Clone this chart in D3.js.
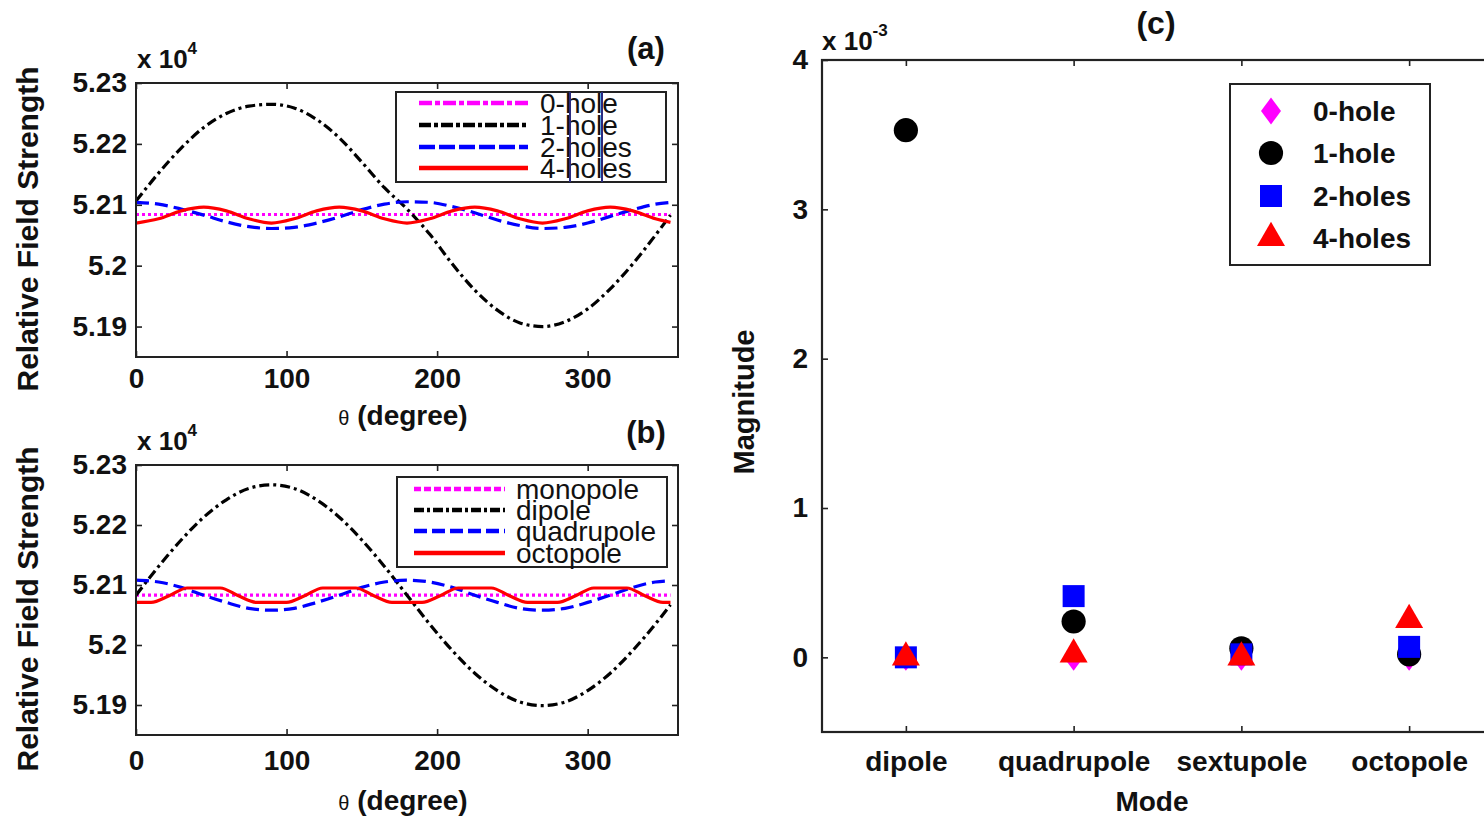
<!DOCTYPE html>
<html><head><meta charset="utf-8">
<script src="https://cdn.jsdelivr.net/npm/d3@7"></script>
<style>
html,body{margin:0;padding:0;background:#fff;}
svg{display:block;}
text{font-family:"Liberation Sans",Arial,Helvetica,sans-serif;fill:#111;}
</style></head><body>
<svg id="chart" width="1484" height="818"></svg>
<script>
// ---------- data: panel (a) ----------
const theta = [0,15,30,45,60,75,90,105,120,135,150,165,180,195,210,225,240,255,270,285,300,315,330,345,355];
const seriesA = ["0-hole","1-hole","2-holes","4-holes"];
const a0hole  = [5.2084,5.2084,5.2084,5.2084,5.2084,5.2084,5.2084,5.2084,5.2084,5.2084,5.2084,5.2084,5.2084,5.2084,5.2084,5.2084,5.2084,5.2084,5.2084,5.2084,5.2084,5.2084,5.2084,5.2084,5.2084];
const a1hole  = [5.2106,5.2152,5.2193,5.2227,5.2250,5.2262,5.2265,5.2259,5.2240,5.2210,5.2170,5.2128,5.2093,5.2052,5.2003,5.1960,5.1927,5.1906,5.1900,5.1908,5.1929,5.1962,5.2003,5.2050,5.2083];
const a2holes = [5.2104,5.2101,5.2093,5.2083,5.2072,5.2064,5.2061,5.2063,5.2070,5.2080,5.2092,5.2101,5.2105,5.2104,5.2097,5.2087,5.2075,5.2066,5.2061,5.2063,5.2070,5.2081,5.2092,5.2101,5.2104];
const a4holes = [5.2070,5.2077,5.2090,5.2096,5.2090,5.2077,5.2070,5.2077,5.2090,5.2096,5.2090,5.2077,5.2070,5.2077,5.2090,5.2096,5.2090,5.2077,5.2070,5.2077,5.2090,5.2096,5.2090,5.2077,5.2071];

// ---------- data: panel (b) ----------
const seriesB = ["monopole","dipole","quadrupole","octopole"];
const bMonopole   = [5.2083,5.2083,5.2083,5.2083,5.2083,5.2083,5.2083,5.2083,5.2083,5.2083,5.2083,5.2083,5.2083,5.2083,5.2083,5.2083,5.2083,5.2083,5.2083,5.2083,5.2083,5.2083,5.2083,5.2083,5.2083];
const bDipole     = [5.2083,5.2131,5.2175,5.2213,5.2242,5.2261,5.2267,5.2261,5.2242,5.2213,5.2175,5.2131,5.2083,5.2035,5.1991,5.1953,5.1924,5.1905,5.1899,5.1905,5.1924,5.1953,5.1991,5.2035,5.2067];
const bQuadrupole = [5.2108,5.2105,5.2096,5.2083,5.2071,5.2061,5.2058,5.2061,5.2071,5.2083,5.2096,5.2105,5.2108,5.2105,5.2096,5.2083,5.2071,5.2061,5.2058,5.2061,5.2071,5.2083,5.2096,5.2105,5.2107];
const thetaOct    = [0,10,22,34,56,68,80,100,112,124,146,158,170,190,202,214,236,248,260,280,292,304,326,338,350,355];
const bOctopole   = [5.2071,5.2071,5.2082,5.2095,5.2095,5.2082,5.2071,5.2071,5.2082,5.2095,5.2095,5.2082,5.2071,5.2071,5.2082,5.2095,5.2095,5.2082,5.2071,5.2071,5.2082,5.2095,5.2095,5.2082,5.2071,5.2071];

const xTicksAB = [0,100,200,300];
const yTicksAB = [5.19,5.2,5.21,5.22,5.23];
const yTickLabelsAB = ["5.19","5.2","5.21","5.22","5.23"];

// ---------- data: panel (c) (x 10^-3) ----------
const modes   = ["dipole","quadrupole","sextupole","octopole"];
const seriesC = ["0-hole","1-hole","2-holes","4-holes"];
const c0hole  = [0.00,0.00,0.00,0.00];
const c1hole  = [3.53,0.24,0.06,0.02];
const c2holes = [0.00,0.41,0.02,0.07];
const c4holes = [0.00,0.02,0.00,0.25];
const yTicksC = [0,1,2,3,4];

// ---------- drawing ----------
const svg = d3.select("#chart");
const colors = ["#ff00ff","#000000","#0000ff","#ff0000"];

function styleAxis(g){
  g.select(".domain").remove();
  g.selectAll(".tick line").attr("stroke","#222").attr("stroke-width",1.6);
}

function linePanel(cfg){
  const g = svg.append("g");
  const x = d3.scaleLinear().domain([0,360]).range([136,678]);
  const y = d3.scaleLinear().domain([5.185,5.23]).range(cfg.yRange);
  const [yb, yt] = cfg.yRange;
  g.append("g").attr("transform",`translate(0,${yb})`)
    .call(d3.axisBottom(x).tickValues(xTicksAB).tickSize(-6).tickPadding(cfg.xPad).tickFormat(d3.format("d")))
    .call(styleAxis)
    .selectAll("text").attr("font-size",28).attr("font-weight","bold").attr("fill","#111");
  g.append("g").attr("transform",`translate(0,${yt})`)
    .call(d3.axisTop(x).tickValues(xTicksAB).tickSize(-6).tickFormat(""))
    .call(styleAxis);
  g.append("g").attr("transform",`translate(136,0)`)
    .call(d3.axisLeft(y).tickValues(yTicksAB).tickSize(-6).tickPadding(9).tickFormat((d,i)=>yTickLabelsAB[i]))
    .call(styleAxis)
    .selectAll("text").attr("font-size",28).attr("font-weight","bold").attr("fill","#111");
  g.append("g").attr("transform",`translate(678,0)`)
    .call(d3.axisRight(y).tickValues(yTicksAB).tickSize(-6).tickFormat(""))
    .call(styleAxis);
  const clip = "clip"+cfg.id;
  g.append("clipPath").attr("id",clip).append("rect")
    .attr("x",136).attr("y",yt).attr("width",542).attr("height",yb-yt);
  const lineGen = d3.line().x(d=>x(d[0])).y(d=>y(d[1])).curve(d3.curveMonotoneX);
  cfg.series.forEach((s,i)=>{
    g.append("path").attr("clip-path",`url(#${clip})`)
      .datum(s.xs.map((t,k)=>[t,s.vals[k]]))
      .attr("d",lineGen).attr("fill","none")
      .attr("stroke",colors[i]).attr("stroke-width",3.2)
      .attr("stroke-dasharray",cfg.plotDash[i]);
  });
  g.append("rect").attr("x",136).attr("y",yt).attr("width",542).attr("height",yb-yt)
    .attr("fill","none").attr("stroke","#222").attr("stroke-width",2);
  const L = cfg.legend;
  g.append("rect").attr("x",L.x0).attr("y",L.y0).attr("width",L.x1-L.x0).attr("height",L.y1-L.y0)
    .attr("fill","#fff").attr("stroke","#222").attr("stroke-width",2);
  cfg.names.forEach((n,i)=>{
    g.append("line").attr("x1",L.lx0).attr("x2",L.lx1).attr("y1",L.rows[i]).attr("y2",L.rows[i])
      .attr("stroke",colors[i]).attr("stroke-width",4.5).attr("stroke-dasharray",cfg.legDash[i]);
    g.append("text").attr("x",L.tx).attr("y",L.rows[i]).attr("dy","0.36em")
      .attr("font-size",28).attr("fill","#111").text(n);
  });
  if(L.artifacts){
    L.artifacts.forEach(ax=>{
      g.append("line").attr("x1",ax).attr("x2",ax).attr("y1",L.y0).attr("y2",L.y1)
        .attr("stroke","#2b2b80").attr("stroke-width",2);
    });
  }
  const ex = g.append("text").attr("x",137).attr("y",cfg.expY).attr("font-size",26).attr("font-weight","bold");
  ex.append("tspan").text("x 10");
  ex.append("tspan").attr("dy",-14).attr("font-size",17).text("4");
  g.append("text").attr("x",646).attr("y",cfg.tagY).attr("text-anchor","middle")
    .attr("font-size",31).attr("font-weight","bold").text(cfg.tag);
  const xl = g.append("text").attr("x",403).attr("y",cfg.xlabY).attr("text-anchor","middle")
    .attr("font-size",28).attr("font-weight","bold");
  xl.append("tspan").attr("font-size",20).attr("font-weight","normal").text("θ");
  xl.append("tspan").text(" (degree)");
  g.append("text").attr("transform",`translate(38,${(yb+yt)/2+9}) rotate(-90)`)
    .attr("text-anchor","middle").attr("font-size",30).attr("font-weight","bold")
    .text("Relative Field Strength");
}

linePanel({
  id:"a", yRange:[357,83], xPad:11, expY:68, tagY:59, xlabY:425, tag:"(a)",
  names:seriesA,
  series:[{xs:theta,vals:a0hole},{xs:theta,vals:a1hole},{xs:theta,vals:a2holes},{xs:theta,vals:a4holes}],
  plotDash:["3,3","10,4,3,4","13,6",null],
  legDash:["13,3,5,3","12,3,4,3","16,4",null],
  legend:{x0:396,x1:666,y0:92,y1:182,lx0:419,lx1:528,tx:540,rows:[103,125,147,168],artifacts:[570,602]}
});
linePanel({
  id:"b", yRange:[735,465], xPad:15, expY:450, tagY:443, xlabY:810, tag:"(b)",
  names:seriesB,
  series:[{xs:theta,vals:bMonopole},{xs:theta,vals:bDipole},{xs:theta,vals:bQuadrupole},{xs:thetaOct,vals:bOctopole}],
  plotDash:["3,3","10,4,3,4","13,6",null],
  legDash:["7,3","10,3,3,3","13,5",null],
  legend:{x0:397,x1:667,y0:477,y1:567,lx0:414,lx1:505,tx:516,rows:[489,510,531,553]}
});

// ---------- panel (c) ----------
(function(){
  const g = svg.append("g");
  const x = d3.scaleLinear().domain([0.5,4.5]).range([822,1493]);
  const y = d3.scaleLinear().domain([-0.5,4]).range([732,60]);
  const pos = modes.map((m,i)=>i+1);
  g.append("g").attr("transform","translate(0,732)")
    .call(d3.axisBottom(x).tickValues(pos).tickSize(-6).tickPadding(19).tickFormat((d,i)=>modes[i]))
    .call(styleAxis)
    .selectAll("text").attr("font-size",28).attr("font-weight","bold").attr("fill","#111");
  g.append("g").attr("transform","translate(0,60)")
    .call(d3.axisTop(x).tickValues(pos).tickSize(-6).tickFormat(""))
    .call(styleAxis);
  g.append("g").attr("transform","translate(822,0)")
    .call(d3.axisLeft(y).tickValues(yTicksC).tickSize(-6).tickPadding(14).tickFormat(d3.format("d")))
    .call(styleAxis)
    .selectAll("text").attr("font-size",28).attr("font-weight","bold").attr("fill","#111");
  g.append("rect").attr("x",822).attr("y",60).attr("width",671).attr("height",672)
    .attr("fill","none").attr("stroke","#222").attr("stroke-width",2.2);

  const diamond = {draw(ctx,size){ const w=10,h=13.5; ctx.moveTo(0,-h); ctx.lineTo(w,0); ctx.lineTo(0,h); ctx.lineTo(-w,0); ctx.closePath(); }};
  const syms = [
    d3.symbol().type(diamond).size(1),
    d3.symbol().type(d3.symbolCircle).size(460),
    d3.symbol().type(d3.symbolSquare).size(484),
    d3.symbol().type(d3.symbolTriangle).size(340)
  ];
  const vals = [c0hole,c1hole,c2holes,c4holes];
  vals.forEach((arr,s)=>{
    g.selectAll(null).data(arr).enter().append("path")
      .attr("d",syms[s]())
      .attr("transform",(d,i)=>`translate(${x(i+1)},${y(d)})`)
      .attr("fill",colors[s]);
  });
  g.append("rect").attr("x",1230).attr("y",84).attr("width",200).attr("height",181)
    .attr("fill","#fff").attr("stroke","#222").attr("stroke-width",2);
  const rows=[111,153,196,238];
  seriesC.forEach((n,s)=>{
    g.append("path").attr("d",syms[s]()).attr("transform",`translate(1271,${rows[s]})`).attr("fill",colors[s]);
    g.append("text").attr("x",1313).attr("y",rows[s]).attr("dy","0.36em")
      .attr("font-size",28).attr("font-weight","bold").text(n);
  });
  const ex = g.append("text").attr("x",822).attr("y",50).attr("font-size",26).attr("font-weight","bold");
  ex.append("tspan").text("x 10");
  ex.append("tspan").attr("dy",-14).attr("font-size",17).text("-3");
  g.append("text").attr("x",1156).attr("y",34).attr("text-anchor","middle")
    .attr("font-size",32).attr("font-weight","bold").text("(c)");
  g.append("text").attr("x",1152).attr("y",811).attr("text-anchor","middle")
    .attr("font-size",28).attr("font-weight","bold").text("Mode");
  g.append("text").attr("transform","translate(754,402) rotate(-90)")
    .attr("text-anchor","middle").attr("font-size",29).attr("font-weight","bold").text("Magnitude");
})();
</script>
</body></html>
